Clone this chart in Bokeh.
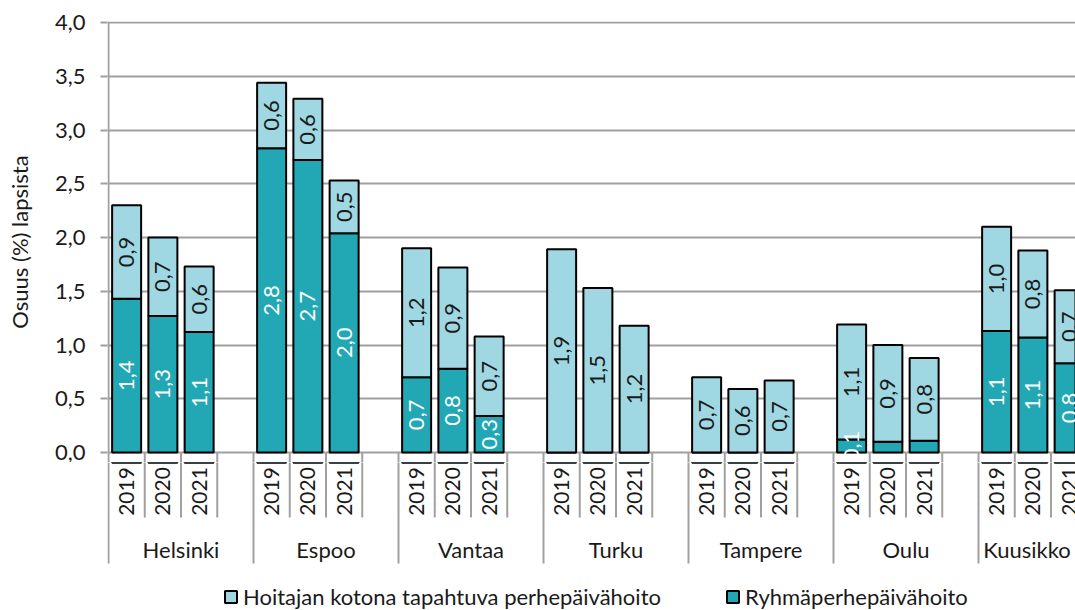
import math
from bokeh.plotting import figure
from bokeh.layouts import column
from bokeh.models import (FixedTicker, CustomJSTickFormatter, ColumnDataSource,
                          Legend, LegendItem, Range1d)
from bokeh.core.properties import value
from bokeh.embed import file_html
from bokeh.resources import INLINE

# ---------------- data ----------------
cities = ["Helsinki", "Espoo", "Vantaa", "Turku", "Tampere", "Oulu", "Kuusikko"]
years = ["2019", "2020", "2021"]
# Ryhmäperhepäivähoito (%)
ryhma = [1.43, 1.27, 1.12,
         2.83, 2.72, 2.04,
         0.70, 0.78, 0.34,
         0.00, 0.00, 0.00,
         0.00, 0.00, 0.00,
         0.12, 0.10, 0.11,
         1.13, 1.07, 0.83]
# Hoitajan kotona tapahtuva perhepäivähoito (%)
koti = [0.87, 0.73, 0.61,
        0.61, 0.57, 0.49,
        1.20, 0.94, 0.74,
        1.89, 1.53, 1.18,
        0.70, 0.59, 0.67,
        1.07, 0.90, 0.77,
        0.97, 0.81, 0.68]
ryhma_labels = ["1,4", "1,3", "1,1", "2,8", "2,7", "2,0", "0,7", "0,8", "0,3",
                "", "", "", "", "", "", "0,1", "", "", "1,1", "1,1", "0,8"]
koti_labels = ["0,9", "0,7", "0,6", "0,6", "0,6", "0,5", "1,2", "0,9", "0,7",
               "1,9", "1,5", "1,2", "0,7", "0,6", "0,7", "1,1", "0,9", "0,8",
               "1,0", "0,8", "0,7"]
y_ticks = [0.0, 0.5, 1.0, 1.5, 2.0, 2.5, 3.0, 3.5, 4.0]
y_title = "Osuus (%) lapsista"
legend_labels = ["Hoitajan kotona tapahtuva perhepäivähoito", "Ryhmäperhepäivähoito"]

# ---------------- style ----------------
FONT = "Lato"
FS = "22px"
FS_YEAR = "21px"
LIGHT = "#9fd8e2"
TEAL = "#21a8b4"
GRID = "#a0a0a0"
TXT = "#1a1a1a"

SLOTS_PER_GROUP = 4
n_groups = len(cities)
n_slots = n_groups * SLOTS_PER_GROUP

xs, yr_txt = [], []
for g in range(n_groups):
    for j, y in enumerate(years):
        xs.append(g * SLOTS_PER_GROUP + j + 0.5)
        yr_txt.append(y)

tot = [a + b for a, b in zip(ryhma, koti)]
src = ColumnDataSource(dict(
    x=xs, ryhma=ryhma, koti=koti, tot=tot,
    rmid=[r / 2 for r in ryhma],
    kmid=[r + k / 2 for r, k in zip(ryhma, koti)],
    rlab=ryhma_labels, klab=koti_labels, year=yr_txt,
))

W = 1075
LEFT = 107           # frame left edge (px)
AXIS_ROW = 452       # pixel row of the value axis
px_per_slot = 36.25
px_per_unit = 107.5
x_end = (W - 108) / px_per_slot
x_range = Range1d(-1 / px_per_slot, x_end)

# slot boundaries of the category axis
sx = list(range(0, n_slots + 1))
is_group_edge = [k % SLOTS_PER_GROUP == 0 for k in sx]

# ---------------- top figure: bars ----------------
TOP_H = 462
y_end = 4.0 + 1 / px_per_unit
y_start = -(TOP_H - AXIS_ROW) / px_per_unit
p = figure(width=W, height=TOP_H, output_backend="svg", toolbar_location=None,
           x_range=x_range, y_range=Range1d(y_start, y_end),
           x_axis_type=None, min_border_left=LEFT, min_border_right=0,
           min_border_top=21, min_border_bottom=0)
p.outline_line_color = None

p.yaxis.ticker = FixedTicker(ticks=y_ticks)
p.yaxis.formatter = CustomJSTickFormatter(code="return tick.toFixed(1).replace('.', ',');")
p.yaxis.axis_line_color = None
p.yaxis.major_tick_line_color = GRID
p.yaxis.major_tick_line_width = 2
p.yaxis.major_tick_in = 0
p.yaxis.major_tick_out = 7
p.yaxis.minor_tick_line_color = None
p.yaxis.major_label_standoff = 15
p.yaxis.major_label_text_font = FONT
p.yaxis.major_label_text_font_size = FS
p.yaxis.major_label_text_color = TXT
p.yaxis.axis_label = y_title
p.yaxis.axis_label_text_font = FONT
p.yaxis.axis_label_text_font_size = FS
p.yaxis.axis_label_text_font_style = "normal"
p.yaxis.axis_label_text_color = TXT
p.yaxis.axis_label_standoff = 19
p.ygrid.grid_line_color = GRID
p.ygrid.grid_line_width = 2

# y-axis line and the top part of the category separators
p.segment(x0=[0], y0=[0], x1=[0], y1=[4.0], line_color=GRID, line_width=2)
p.segment(x0=sx, y0=[0] * len(sx), x1=sx, y1=[-0.5] * len(sx),
          line_color=GRID, line_width=2)

BW = 0.8
r_ryhma = p.vbar(x="x", width=BW, bottom=0, top="ryhma", source=src,
                 fill_color=TEAL, line_color="black", line_width=2)
r_koti = p.vbar(x="x", width=BW, bottom="ryhma", top="tot", source=src,
                fill_color=LIGHT, line_color="black", line_width=2)

p.text(x="x", y="rmid", text="rlab", source=src, angle=math.pi / 2,
       text_align="center", text_baseline="middle", text_color="white",
       text_font=value(FONT), text_font_size=FS)
p.text(x="x", y="kmid", text="klab", source=src, angle=math.pi / 2,
       text_align="center", text_baseline="middle", text_color=TXT,
       text_font=value(FONT), text_font_size=FS)

# ---------------- bottom figure: category axis + legend ----------------
BOT_H = 610 - TOP_H
# y in pixels below the value axis row (axis row = 0)
q = figure(width=W, height=BOT_H, output_backend="svg", toolbar_location=None,
           x_range=x_range,
           y_range=Range1d(-(610 - AXIS_ROW), -(TOP_H - AXIS_ROW)),
           x_axis_type=None, y_axis_type=None,
           min_border_left=LEFT, min_border_right=0,
           min_border_top=0, min_border_bottom=0)
q.outline_line_color = None
q.xgrid.visible = False
q.ygrid.visible = False

sy1 = [-111 if ge else -65 for ge in is_group_edge]
q.segment(x0=sx, y0=[0] * len(sx), x1=sx, y1=sy1, line_color=GRID, line_width=2)

q.text(x="x", y=-39, text="year", source=src, angle=math.pi / 2,
       text_align="center", text_baseline="middle", text_color=TXT,
       text_font=value(FONT), text_font_size=FS_YEAR)

# group labels centred on the visible part of each group
gx = [(g * SLOTS_PER_GROUP + min((g + 1) * SLOTS_PER_GROUP, x_end)) / 2
      for g in range(n_groups)]
q.text(x=gx, y=[-97] * n_groups, text=cities,
       text_align="center", text_baseline="middle", text_color=TXT,
       text_font=value(FONT), text_font_size=FS)

# legend renderers: same bar styles, placed far outside this frame
OFF = 10000
lg_k = q.vbar(x="x", width=BW, bottom=OFF, top=OFF + 1, source=src,
              fill_color=LIGHT, line_color="black", line_width=2)
lg_r = q.vbar(x="x", width=BW, bottom=OFF, top=OFF + 1, source=src,
              fill_color=TEAL, line_color="black", line_width=2)
legend = Legend(items=[LegendItem(label=legend_labels[0], renderers=[lg_k]),
                       LegendItem(label=legend_labels[1], renderers=[lg_r])],
                orientation="horizontal", location=(116, 0),
                glyph_width=15, glyph_height=15, label_standoff=5,
                label_width=470, spacing=12, padding=0, margin=0,
                border_line_color=None, background_fill_alpha=0,
                label_text_font=FONT, label_text_font_size=FS,
                label_text_color=TXT)
q.add_layout(legend)

layout = column(p, q, spacing=0)
open("out.html", "w").write(file_html(layout, INLINE))
